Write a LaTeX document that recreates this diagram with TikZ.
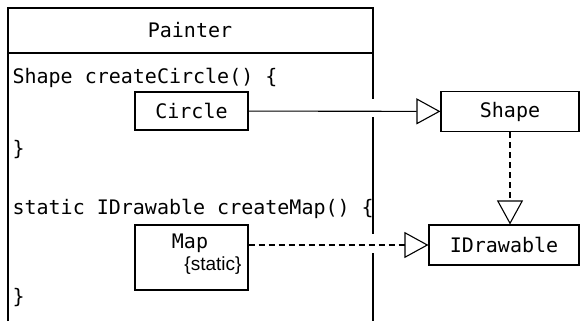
\documentclass[tikz,border=0pt]{standalone}
\usepackage{fontspec}
\setmonofont{DejaVu Sans Mono}
\setsansfont{Liberation Sans}
\usetikzlibrary{arrows.meta}

\begin{document}
\begin{tikzpicture}[x=1pt, y=-1pt, line width=1.1pt,
          cls/.style={draw, rectangle, inner sep=0pt, font=\fontsize{20}{24}\ttfamily},
          code/.style={anchor=west, inner sep=0pt, font=\fontsize{20}{24}\ttfamily},
          gen/.style={-{Triangle[open, length=24pt, width=26pt]}},
          real/.style={gen, dash pattern=on 6pt off 4pt},
        ]
        \useasboundingbox (0,0) rectangle (583,321);
        % Painter class, open at the bottom
        \draw (8,321) -- (8,8) -- (373,8) -- (373,99);
        \draw (373,117) -- (373,234);
        \draw (373,253) -- (373,321);
        \draw (8,53) -- (373,53);
        \node[code, anchor=center] (painter) at (190,30) {Painter};
        \node[code] (m1) at (12,78) {Shape createCircle() \{};
        \node[code] (e1) at (12,150) {\}};
        \node[code] (m2) at (12,209) {static IDrawable createMap() \{};
        \node[code] (e2) at (12,298) {\}};
        % objects
        \node[cls, minimum width=113pt, minimum height=38pt] (circle) at (191.5,111) {Circle};
        \node[cls, minimum width=113pt, minimum height=65pt] (map) at (191.5,257.5) {};
        \node[font=\fontsize{20}{24}\ttfamily] at (190,243) {Map};
        \node[font=\fontsize{19}{22}\sffamily] at (213,266) {\{static\}};
        % types
        \node[cls, minimum width=138pt, minimum height=40pt] (shape) at (510,111.5) {Shape};
        \node[cls, minimum width=150pt, minimum height=40pt] (idraw) at (504,245) {IDrawable};
        % relations
        \draw[gen] (circle) -- (shape);
        \draw[real] (map.east |- idraw.west) -- (idraw.west);
        \draw[real] (shape.south) -- (shape.south |- idraw.north);
      \end{tikzpicture}
\end{document}
